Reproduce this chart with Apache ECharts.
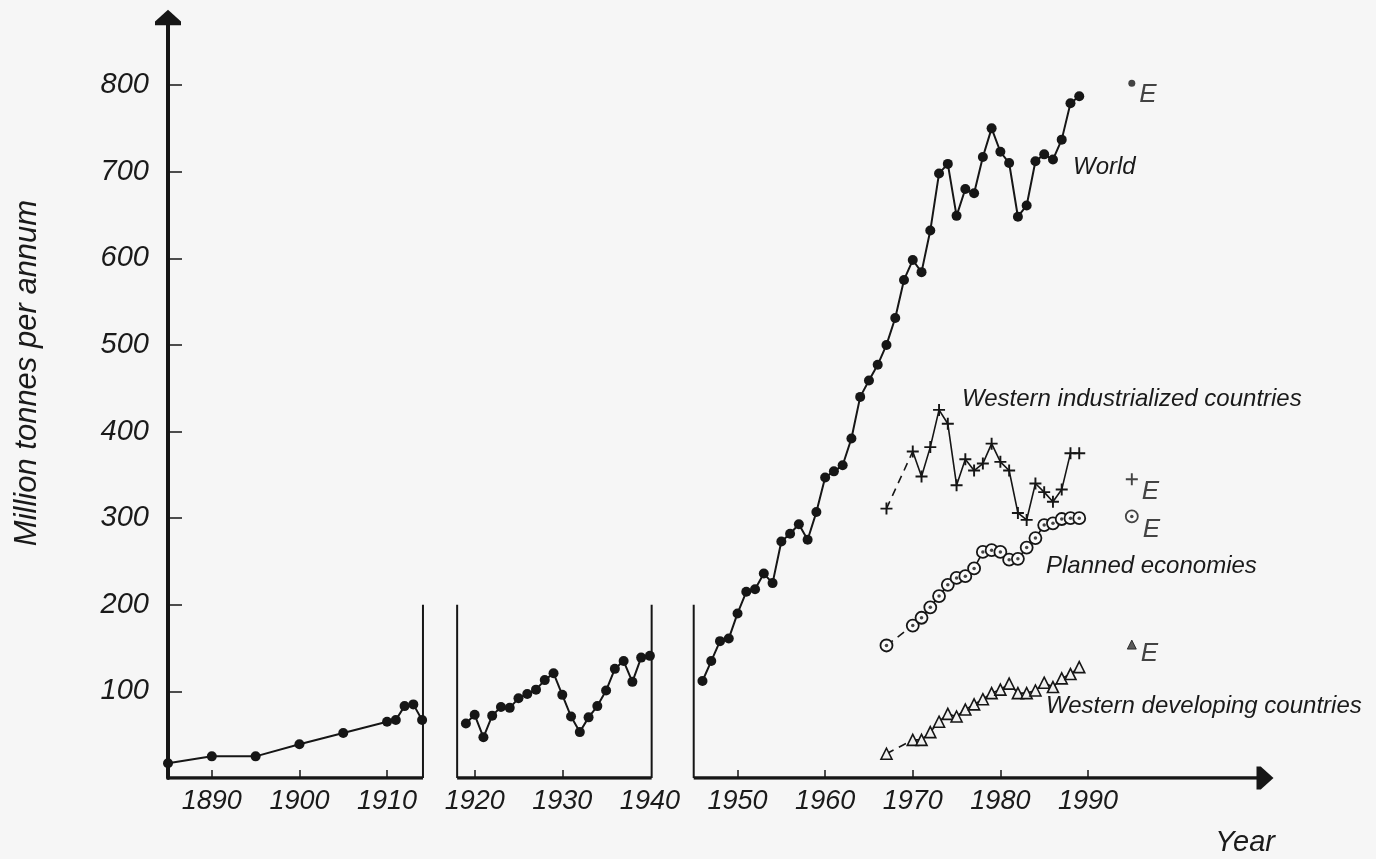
<!DOCTYPE html>
<html>
<head>
<meta charset="utf-8">
<script src="https://cdn.jsdelivr.net/npm/echarts@6/dist/echarts.min.js"></script>
<style>
  html, body { margin: 0; padding: 0; background: #f6f6f6; }
  #chart { width: 1376px; height: 859px; }
</style>
</head>
<body>
<div id="chart"></div>
<script>
// Crude steel production, million tonnes per annum

// World, before the First World War
const worldYearsA = [1885, 1890, 1895, 1900, 1905, 1910, 1911, 1912, 1913, 1914];
const worldValuesA = [17, 25, 25, 39, 52, 65, 67, 83, 85, 67];

// World, between the wars
const worldYearsB = [1919, 1920, 1921, 1922, 1923, 1924, 1925, 1926, 1927, 1928, 1929,
                     1930, 1931, 1932, 1933, 1934, 1935, 1936, 1937, 1938, 1939, 1940];
const worldValuesB = [63, 73, 47, 72, 82, 81, 92, 97, 102, 113, 121,
                      96, 71, 53, 70, 83, 101, 126, 135, 111, 139, 141];

// World, after 1945
const worldYearsC = [1946, 1947, 1948, 1949, 1950, 1951, 1952, 1953, 1954, 1955, 1956,
                     1957, 1958, 1959, 1960, 1961, 1962, 1963, 1964, 1965, 1966, 1967,
                     1968, 1969, 1970, 1971, 1972, 1973, 1974, 1975, 1976, 1977, 1978,
                     1979, 1980, 1981, 1982, 1983, 1984, 1985, 1986, 1987, 1988, 1989];
const worldValuesC = [112, 135, 158, 161, 190, 215, 218, 236, 225, 273, 282,
                      293, 275, 307, 347, 354, 361, 392, 440, 459, 477, 500,
                      531, 575, 598, 584, 632, 698, 709, 649, 680, 675, 717,
                      750, 723, 710, 648, 661, 712, 720, 714, 737, 779, 787];

// Regional series: 1967 and 1970 joined by a dashed line, yearly from 1970
const gapYears = [1967, 1970];
const regionYears = [1970, 1971, 1972, 1973, 1974, 1975, 1976, 1977, 1978, 1979,
                     1980, 1981, 1982, 1983, 1984, 1985, 1986, 1987, 1988, 1989];

const industrializedGap = [311, 377];
const industrialized = [377, 348, 382, 425, 409, 338, 368, 355, 363, 386,
                        365, 355, 306, 298, 340, 330, 319, 333, 375, 375];

const plannedGap = [153, 176];
const planned = [176, 185, 197, 210, 223, 231, 233, 242, 261, 263,
                 261, 252, 253, 266, 277, 292, 294, 299, 300, 300];

const developingGap = [28, 44];
const developing = [44, 44, 53, 65, 74, 71, 79, 85, 91, 98,
                    102, 109, 98, 98, 101, 110, 105, 115, 120, 128];

// Estimates (E)
const estimateYear = 1995;
const worldEstimate = 802;
const industrializedEstimate = 345;
const plannedEstimate = 302;
const developingEstimate = 154;

// Axis ticks and labels
const yTickValues = [100, 200, 300, 400, 500, 600, 700, 800];
const xTickValues = [1890, 1900, 1910, 1920, 1930, 1950, 1960, 1970, 1980, 1990];
const xLabelValues = [1890, 1900, 1910, 1920, 1930, 1940, 1950, 1960, 1970, 1980, 1990];

// Broken time axis: the three drawn stretches and the period separators
const axisSegments = [[1885, 1914.1], [1918, 1940.2], [1945, 2010.2]];
const separatorYears = [1914.1, 1918, 1940.2, 1945];
const separatorTop = 200;

const INK = '#161616';
const FONT = '"Liberation Sans", Arial, sans-serif';
const ARROW = 'path://M10,0L20,9L20,12L0,12L0,9Z';
const PLUS = 'path://M4.2,0H5.8V4.2H10V5.8H5.8V10H4.2V5.8H0V4.2H4.2Z';

const pairs = (xs, ys) => xs.map((x, i) => [x, ys[i]]);

const baseLine = {
  type: 'line',
  silent: true,
  animation: false,
  z: 3
};

const series = [];

// time axis stretches
axisSegments.forEach((seg, i) => {
  const last = i === axisSegments.length - 1;
  series.push(Object.assign({}, baseLine, {
    symbol: 'none',
    showSymbol: true,
    z: 2,
    lineStyle: { color: INK, width: 3.5 },
    data: [
      [seg[0], 0],
      last ? { value: [seg[1], 0], symbol: ARROW, symbolSize: [23, 17], symbolRotate: -90,
               itemStyle: { color: INK } } : [seg[1], 0]
    ]
  }));
});

// period separators
separatorYears.forEach(yr => {
  series.push(Object.assign({}, baseLine, {
    symbol: 'none',
    z: 2,
    lineStyle: { color: INK, width: 2 },
    data: [[yr, 0], [yr, separatorTop]]
  }));
});

// World
[[worldYearsA, worldValuesA], [worldYearsB, worldValuesB], [worldYearsC, worldValuesC]].forEach(([xs, ys]) => {
  series.push(Object.assign({}, baseLine, {
    symbol: 'circle',
    symbolSize: 10,
    itemStyle: { color: INK },
    lineStyle: { color: INK, width: 2 },
    data: pairs(xs, ys)
  }));
});

// regional series
function region(gapVals, vals, symbolOpts, lineWidth) {
  series.push(Object.assign({}, baseLine, symbolOpts, {
    lineStyle: { color: INK, width: lineWidth, type: [8, 6] },
    data: [[gapYears[0], gapVals[0]], { value: [gapYears[1], gapVals[1]], symbol: 'none' }]
  }));
  series.push(Object.assign({}, baseLine, symbolOpts, {
    lineStyle: { color: INK, width: lineWidth },
    data: pairs(regionYears, vals)
  }));
}

const plusOpts = { symbol: PLUS, symbolSize: 12, itemStyle: { color: INK } };
const ringOpts = { symbol: 'circle', symbolSize: 12, itemStyle: { color: '#fafafa', borderColor: INK, borderWidth: 1.8 } };
const triOpts = { symbol: 'triangle', symbolSize: 11, itemStyle: { color: '#f0f0f0', borderColor: INK, borderWidth: 1.6 } };

region(industrializedGap, industrialized, plusOpts, 1.6);
region(plannedGap, planned, ringOpts, 1.6);
region(developingGap, developing, triOpts, 1.6);

// centre dots of the planned-economy rings
series.push({
  type: 'scatter',
  silent: true,
  animation: false,
  z: 4,
  symbol: 'circle',
  symbolSize: 3.5,
  itemStyle: { color: INK },
  data: [[gapYears[0], plannedGap[0]]].concat(pairs(regionYears, planned), [[estimateYear, plannedEstimate]])
});

// estimates, each labelled E
function estimate(value, symbolOpts, dy) {
  series.push(Object.assign({
    type: 'scatter',
    silent: true,
    animation: false,
    z: 3,
    label: {
      show: true,
      position: 'right',
      distance: 4,
      offset: [0, dy],
      formatter: 'E',
      color: INK,
      fontFamily: FONT,
      fontStyle: 'italic',
      fontSize: 26
    },
    data: [[estimateYear, value]]
  }, symbolOpts));
}
estimate(worldEstimate, { symbol: 'circle', symbolSize: 7, itemStyle: { color: INK } }, 11);
estimate(industrializedEstimate, { symbol: PLUS, symbolSize: 12, itemStyle: { color: INK } }, 13);
estimate(plannedEstimate, { symbol: 'circle', symbolSize: 12, itemStyle: { color: '#fafafa', borderColor: INK, borderWidth: 1.8 } }, 13);
estimate(developingEstimate, { symbol: 'triangle', symbolSize: 9, itemStyle: { color: '#333', borderColor: INK, borderWidth: 1 } }, 9);

const textStyle = (size) => ({ fill: '#1a1a1a', fontFamily: FONT, fontStyle: 'italic', fontSize: size });

const chart = echarts.init(document.getElementById('chart'));
chart.setOption({
  backgroundColor: '#f6f6f6',
  animation: false,
  grid: { left: 168, right: 104, top: 17.5, bottom: 81 },
  xAxis: {
    type: 'value',
    min: 1885,
    max: 2011,
    axisLine: { show: false },
    splitLine: { show: false },
    axisTick: {
      show: true,
      inside: true,
      length: 8,
      customValues: xTickValues,
      lineStyle: { color: INK, width: 1.5 }
    },
    axisLabel: {
      customValues: xLabelValues,
      formatter: v => String(v),
      margin: 10,
      color: '#1a1a1a',
      fontFamily: FONT,
      fontStyle: 'italic',
      fontSize: 27
    }
  },
  yAxis: {
    type: 'value',
    min: 0,
    max: 878,
    splitLine: { show: false },
    axisLine: {
      show: true,
      symbol: ['none', ARROW],
      symbolSize: [26, 16],
      lineStyle: { color: INK, width: 4 }
    },
    axisTick: {
      show: true,
      inside: true,
      length: 14,
      customValues: yTickValues,
      lineStyle: { color: INK, width: 1.5 }
    },
    axisLabel: {
      customValues: yTickValues,
      formatter: v => String(v),
      margin: 19,
      color: '#1a1a1a',
      fontFamily: FONT,
      fontStyle: 'italic',
      fontSize: 29
    }
  },
  graphic: [
    { type: 'text', x: 27, y: 373, rotation: Math.PI / 2,
      style: Object.assign(textStyle(31), { text: 'Million tonnes per annum', textAlign: 'center', textVerticalAlign: 'middle' }) },
    { type: 'text', x: 1275, y: 843,
      style: Object.assign(textStyle(29), { text: 'Year', textAlign: 'right', textVerticalAlign: 'middle' }) },
    { type: 'text', x: 1073, y: 167,
      style: Object.assign(textStyle(24), { text: 'World', textAlign: 'left', textVerticalAlign: 'middle' }) },
    { type: 'text', x: 962, y: 399,
      style: Object.assign(textStyle(24), { text: 'Western industrialized countries', textAlign: 'left', textVerticalAlign: 'middle' }) },
    { type: 'text', x: 1046, y: 566,
      style: Object.assign(textStyle(24), { text: 'Planned economies', textAlign: 'left', textVerticalAlign: 'middle' }) },
    { type: 'text', x: 1046, y: 706,
      style: Object.assign(textStyle(24), { text: 'Western developing countries', textAlign: 'left', textVerticalAlign: 'middle' }) }
  ],
  series: series
});
</script>
</body>
</html>
